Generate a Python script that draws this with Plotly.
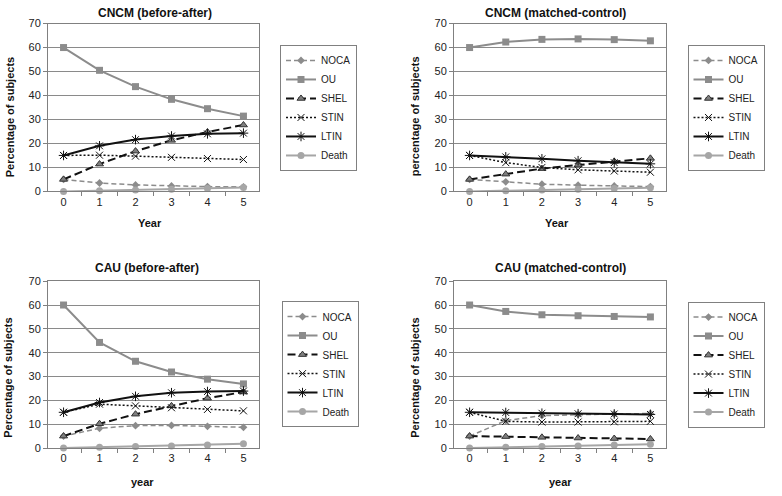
import plotly.graph_objects as go

years = ["0", "1", "2", "3", "4", "5"]
y_tick_vals = [0, 10, 20, 30, 40, 50, 60, 70]
series_names = ["NOCA", "OU", "SHEL", "STIN", "LTIN", "Death"]
panel_titles = ["CNCM (before-after)", "CNCM (matched-control)",
                "CAU (before-after)", "CAU (matched-control)"]
y_titles = ["Percentage of subjects", "percentage of subjects",
            "Percentage of subjects", "Percentage of subjects"]
x_titles = ["Year", "Year", "year", "year"]

# CNCM (before-after)
cncm_ba_noca = [5, 3.5, 2.7, 2.3, 2.0, 1.9]
cncm_ba_ou = [60, 50.5, 43.7, 38.4, 34.5, 31.4]
cncm_ba_shel = [5, 11.4, 16.8, 21.3, 24.8, 27.7]
cncm_ba_stin = [15, 15.1, 14.7, 14.2, 13.7, 13.3]
cncm_ba_ltin = [15, 19.0, 21.6, 23.1, 24.0, 24.3]
cncm_ba_death = [0, 0.3, 0.6, 0.9, 1.2, 1.6]

# CNCM (matched-control)
cncm_mc_noca = [5, 4.0, 3.0, 2.6, 2.3, 2.0]
cncm_mc_ou = [60, 62.3, 63.4, 63.6, 63.3, 62.8]
cncm_mc_shel = [5, 7.2, 9.5, 11.0, 12.5, 13.8]
cncm_mc_stin = [15, 12.0, 10.0, 9.0, 8.5, 8.0]
cncm_mc_ltin = [15, 14.4, 13.6, 12.8, 12.0, 11.5]
cncm_mc_death = [0, 0.3, 0.6, 0.9, 1.2, 1.5]

# CAU (before-after)
cau_ba_noca = [5, 8.3, 9.4, 9.5, 9.1, 8.7]
cau_ba_ou = [60, 44.3, 36.4, 31.9, 28.9, 26.9]
cau_ba_shel = [5, 10.2, 14.2, 17.7, 20.9, 23.5]
cau_ba_stin = [15, 18.4, 17.7, 16.9, 16.2, 15.6]
cau_ba_ltin = [15, 19.1, 21.7, 23.2, 23.7, 23.9]
cau_ba_death = [0, 0.3, 0.6, 0.9, 1.3, 1.8]

# CAU (matched-control)
cau_mc_noca = [5, 11.5, 13.6, 14.1, 14.3, 14.5]
cau_mc_ou = [60, 57.3, 55.9, 55.5, 55.2, 55.0]
cau_mc_shel = [5, 4.8, 4.5, 4.2, 4.0, 3.8]
cau_mc_stin = [15, 11.2, 10.9, 10.9, 11.0, 11.2]
cau_mc_ltin = [15, 14.9, 14.6, 14.4, 14.3, 14.1]
cau_mc_death = [0, 0.3, 0.6, 0.9, 1.3, 1.6]

panels = [
    [cncm_ba_noca, cncm_ba_ou, cncm_ba_shel, cncm_ba_stin, cncm_ba_ltin, cncm_ba_death],
    [cncm_mc_noca, cncm_mc_ou, cncm_mc_shel, cncm_mc_stin, cncm_mc_ltin, cncm_mc_death],
    [cau_ba_noca, cau_ba_ou, cau_ba_shel, cau_ba_stin, cau_ba_ltin, cau_ba_death],
    [cau_mc_noca, cau_mc_ou, cau_mc_shel, cau_mc_stin, cau_mc_ltin, cau_mc_death],
]

W, H = 782, 496
FONT = "Liberation Sans, Arial, sans-serif"

styles = {
    "NOCA": dict(line=dict(color="#8c8c8c", width=1.5, dash="5px,3px"),
                 marker=dict(symbol="diamond", size=6, color="#8c8c8c")),
    "OU": dict(line=dict(color="#8c8c8c", width=2),
               marker=dict(symbol="square", size=7, color="#8c8c8c")),
    "SHEL": dict(line=dict(color="#111111", width=2, dash="8px,4px"),
                 marker=dict(symbol="triangle-up", size=7, color="#7f7f7f",
                             line=dict(color="#333333", width=1))),
    "STIN": dict(line=dict(color="#111111", width=1.5, dash="2px,2px"),
                 marker=dict(symbol="x-thin-open", size=7,
                             line=dict(color="#111111", width=1))),
    "LTIN": dict(line=dict(color="#111111", width=2),
                 marker=dict(symbol="asterisk-open", size=8,
                             line=dict(color="#111111", width=1))),
    "Death": dict(line=dict(color="#a6a6a6", width=2),
                  marker=dict(symbol="circle", size=7, color="#a6a6a6")),
}

# plot areas in pixels: (left, right, top, bottom)
boxes = [(48, 259, 18, 190), (454, 666, 18, 190),
         (48, 259, 282, 453), (454, 666, 282, 453)]
legend_centers = [(318.5, 104.5), (726, 104.5), (320, 367), (726, 367.5)]
title_pos = [(155, 7), (555, 7), (147, 269), (560, 269)]
ytitle_pos = [(10, 114), (415, 113), (8, 381), (415, 381)]
xtitle_pos = [(150, 222), (557, 222), (142, 488), (560, 488)]

fig = go.Figure()
layout = dict(width=W, height=H, autosize=False,
              margin=dict(l=0, r=0, t=0, b=0),
              paper_bgcolor="white", plot_bgcolor="white",
              font=dict(family=FONT, size=11, color="#222222"),
              annotations=[], showlegend=True)

for i, data in enumerate(panels):
    n = "" if i == 0 else str(i + 1)
    xa, ya = "x" + n, "y" + n
    leg = "legend" + n
    for name, vals in zip(series_names, data):
        st = styles[name]
        fig.add_trace(go.Scatter(
            x=years, y=vals, name=name, mode="lines+markers",
            line=st["line"], marker=st["marker"],
            xaxis=xa, yaxis=ya, legend=leg, cliponaxis=False,
            hoverinfo="x+y+name"))
    l, r, t, b = boxes[i]
    layout["xaxis" + n] = dict(
        domain=[l / W, r / W], anchor=ya, type="category",
        tickson="boundaries", ticks="outside", ticklen=4, tickcolor="#808080",
        showline=True, linecolor="#808080", linewidth=1, mirror=True,
        showgrid=False, tickfont=dict(size=11, color="#222222"))
    layout["yaxis" + n] = dict(
        domain=[1 - b / H, 1 - t / H], anchor=xa, range=[0, 70],
        tickvals=y_tick_vals, ticks="outside", ticklen=4, tickcolor="#808080",
        showline=True, linecolor="#808080", linewidth=1, mirror=True,
        showgrid=True, gridcolor="#8a8a8a", gridwidth=1, zeroline=False,
        tickfont=dict(size=11, color="#222222"))
    cx, cy = legend_centers[i]
    layout[leg] = dict(
        x=cx / W, y=1 - cy / H, xanchor="center", yanchor="middle",
        orientation="v", bgcolor="white", bordercolor="#808080", borderwidth=1,
        font=dict(family=FONT, size=10, color="#222222"), tracegroupgap=0)
    tx, ty = title_pos[i]
    layout["annotations"].append(dict(
        text="<b>" + panel_titles[i] + "</b>", x=tx / W, y=1 - ty / H,
        xref="paper", yref="paper", showarrow=False, xanchor="center", yanchor="middle",
        font=dict(family=FONT, size=12, color="#111111")))
    yx, yy = ytitle_pos[i]
    layout["annotations"].append(dict(
        text="<b>" + y_titles[i] + "</b>", x=yx / W, y=1 - yy / H, textangle=-90,
        xref="paper", yref="paper", showarrow=False, xanchor="center", yanchor="middle",
        font=dict(family=FONT, size=11, color="#111111")))
    xx, xy = xtitle_pos[i]
    layout["annotations"].append(dict(
        text="<b>" + x_titles[i] + "</b>", x=xx / W, y=1 - xy / H,
        xref="paper", yref="paper", showarrow=False, xanchor="center", yanchor="middle",
        font=dict(family=FONT, size=11, color="#111111")))

fig.update_layout(**layout)
fig.write_html("out.html",
               config={"displayModeBar": False},
               post_script="document.body.style.margin='0px';"
                           "document.body.style.overflow='hidden';")
